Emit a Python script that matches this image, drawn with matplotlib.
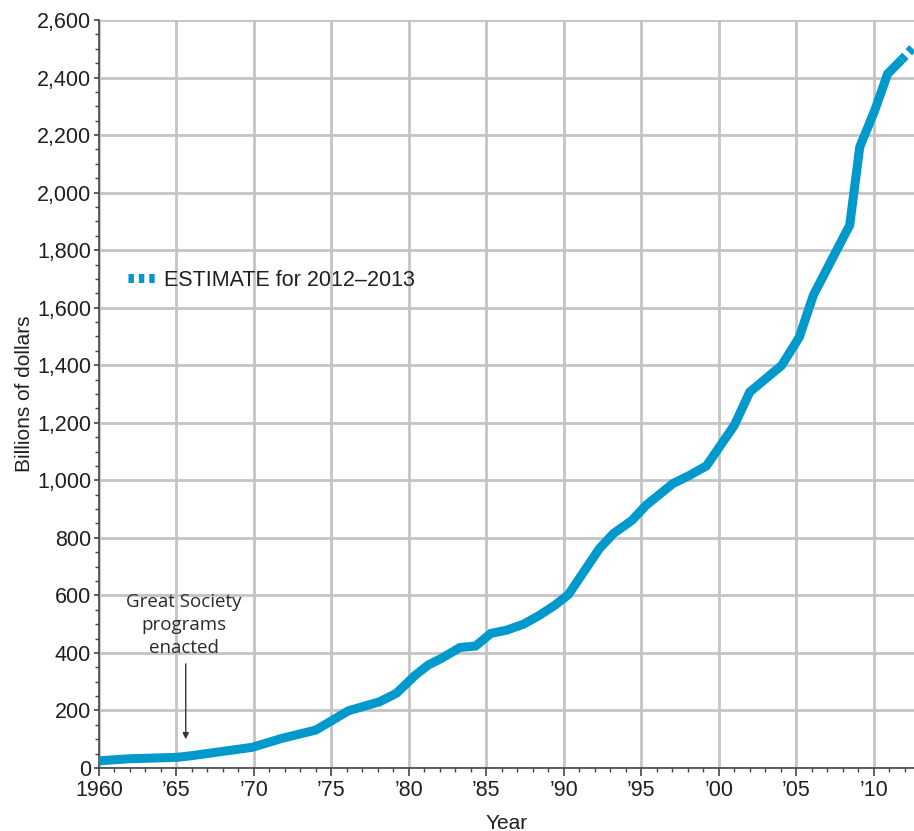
import matplotlib
matplotlib.use("Agg")
import matplotlib.pyplot as plt
from matplotlib.ticker import MultipleLocator, FuncFormatter

years = [1960.0, 1961.9, 1965.0, 1966.0, 1969.9, 1971.8, 1974.0, 1976.1, 1978.1,
         1979.2, 1980.4, 1981.25, 1982.1, 1983.3, 1984.3, 1985.3, 1986.3, 1987.4,
         1988.4, 1989.4, 1990.3, 1991.0, 1992.3, 1993.2, 1994.4, 1995.3, 1997.05,
         1998.0, 1999.2, 2001.0, 2002.0, 2004.05, 2005.2, 2006.1, 2007.6, 2008.45,
         2009.1, 2010.06, 2010.9, 2011.8]
values = [25, 32, 37, 43, 72, 103, 132, 199, 230,
          260, 322, 358, 381, 419, 424, 468, 479, 500,
          530, 565, 603, 659, 763, 815, 861, 913, 989,
          1014, 1050, 1191, 1307, 1399, 1498, 1643, 1799, 1887,
          2159, 2285, 2413, 2462]

est_years = [2011.8, 2013.0]
est_values = [2462, 2530]

x_ticks = [1960, 1965, 1970, 1975, 1980, 1985, 1990, 1995, 2000, 2005, 2010]
x_labels = ["1960", "\u201965", "\u201970", "\u201975", "\u201980", "\u201985",
            "\u201990", "\u201995", "\u201900", "\u201905", "\u201910"]

blue = "#0099cc"
ink = "#231f20"
grid_c = "#c4c4c4"

plt.rcParams["font.family"] = ["Liberation Sans", "DejaVu Sans"]

fig = plt.figure(figsize=(9.14, 8.31), dpi=100)
ax = fig.add_axes([0.1083, 0.0758, 0.8917, 0.9001])

ax.plot(years, values, color=blue, lw=6.5, solid_capstyle="butt",
        solid_joinstyle="miter", zorder=3)
est, = ax.plot(est_years, est_values, color=blue, lw=6.5,
               linestyle=(0, (0.6, 0.55)), dash_capstyle="butt", zorder=3,
               label="ESTIMATE for 2012\u20132013")

ax.set_xlim(1960, 2012.6)
ax.set_ylim(0, 2600)

ax.set_xticks(x_ticks)
ax.set_xticklabels(x_labels)
ax.xaxis.set_minor_locator(MultipleLocator(1))
ax.yaxis.set_major_locator(MultipleLocator(200))
ax.yaxis.set_minor_locator(MultipleLocator(50))
ax.yaxis.set_major_formatter(FuncFormatter(lambda v, p: f"{int(v):,}"))

ax.grid(True, which="major", color=grid_c, lw=2.0, zorder=0)
ax.set_axisbelow(True)

for s in ["top", "right"]:
    ax.spines[s].set_visible(False)
for s in ["left", "bottom"]:
    ax.spines[s].set_color("#444444")
    ax.spines[s].set_linewidth(1.2)

ax.tick_params(axis="both", which="major", colors="#444444", labelcolor=ink,
               labelsize=15.5, width=1.2)
ax.tick_params(axis="x", which="major", length=5.8, pad=3)
ax.tick_params(axis="y", which="major", length=3.6, pad=2)
ax.tick_params(axis="both", which="minor", colors="#444444", length=3, width=1.0)

ax.set_ylabel("Billions of dollars", fontsize=15, color=ink, labelpad=2)
ax.set_xlabel("Year", fontsize=15, color=ink, labelpad=9)

ax.legend(handles=[est], loc="center left", bbox_to_anchor=(0.0123, 0.652),
          frameon=False, fontsize=15.5, handlelength=1.25, handletextpad=0.4,
          labelcolor=ink)

# Great Society note with arrow down to the curve
ax.text(1965.5, 385, "Great Society\nprograms\nenacted", ha="center", va="bottom",
        fontsize=13.5, color="#2a2a2a", linespacing=1.35,
        family=["Open Sans", "DejaVu Sans"])
ax.annotate("", xy=(1965.6, 100), xytext=(1965.6, 362),
            arrowprops=dict(arrowstyle="-|>", color="#333333", lw=1.0,
                            mutation_scale=9, shrinkA=0, shrinkB=0))

fig.savefig("out.png", dpi=100)
